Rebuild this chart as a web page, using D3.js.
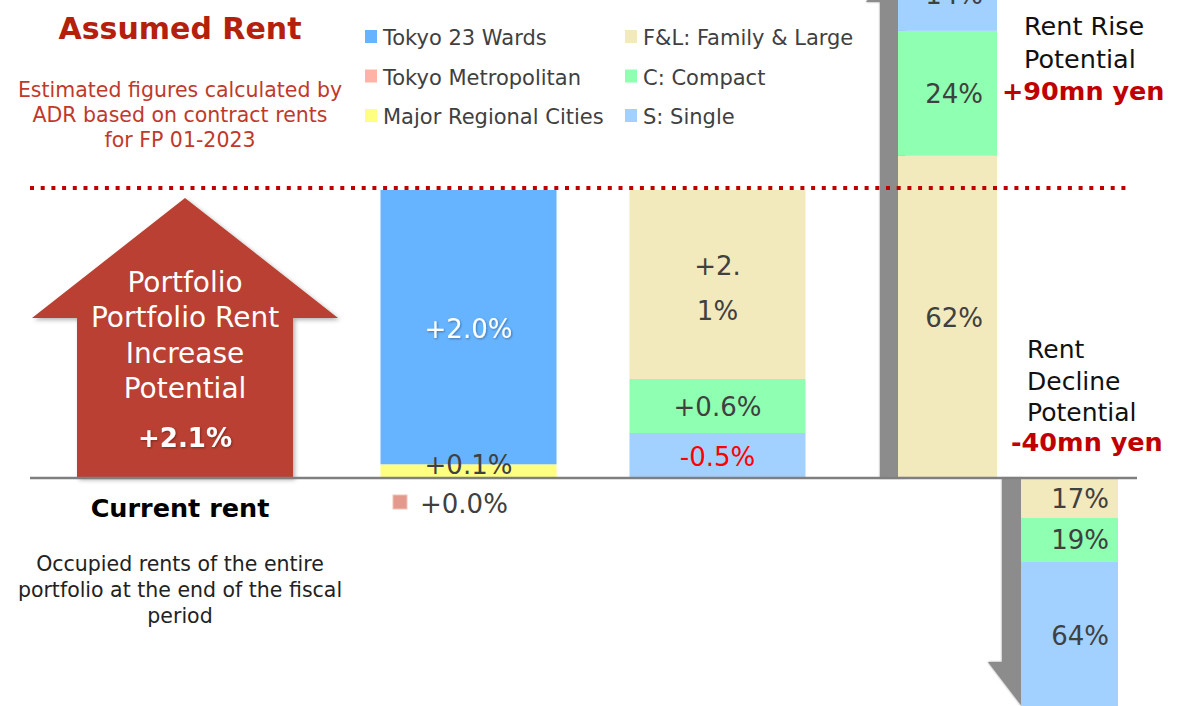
<!DOCTYPE html>
<html><head><meta charset="utf-8">
<script src="https://cdn.jsdelivr.net/npm/d3@7/dist/d3.min.js"></script>
<style>body{margin:0;background:#fff;overflow:hidden} svg{display:block;font-family:"DejaVu Sans",Verdana,sans-serif;}</style>
</head><body><svg id="c" width="1192" height="706"></svg>
<script>
// ---------- data ----------
const areaCategories = ["Tokyo 23 Wards", "Tokyo Metropolitan", "Major Regional Cities"];
const areaValues = [2.0, 0.0, 0.1];
const typeCategories = ["F&L: Family & Large", "C: Compact", "S: Single"];
const typeValues = [2.1, 0.6, -0.5];
const riseShares = [62, 24, 14];      // F&L, C, S (% of rise)
const declineShares = [17, 19, 64];   // F&L, C, S (% of decline)
const riseAmount = 90;                // mn yen
const declineAmount = -40;            // mn yen
const portfolioIncrease = 2.1;        // %
const columns = ["area", "type"];

// ---------- styles ----------
const areaColors = ["#66B3FF", "#FFB3A6", "#FFFF80"];
const typeColors = ["#F2E9BD", "#8FFFB1", "#A3D1FF"];
const textGrey = "#404040";

const svg = d3.select("#c");
const defs = svg.append("defs");
const f1 = defs.append("filter").attr("id", "sh").attr("x", "-20%").attr("y", "-20%").attr("width", "140%").attr("height", "140%");
f1.append("feDropShadow").attr("dx", 2).attr("dy", 2).attr("stdDeviation", 2).attr("flood-color", "#000").attr("flood-opacity", 0.3);
const f2 = defs.append("filter").attr("id", "tsh").attr("x", "-20%").attr("y", "-20%").attr("width", "140%").attr("height", "140%");
f2.append("feDropShadow").attr("dx", 1).attr("dy", 1).attr("stdDeviation", 1).attr("flood-color", "#000").attr("flood-opacity", 0.35);
const f3 = defs.append("filter").attr("id", "gsh").attr("x", "-50%").attr("y", "-10%").attr("width", "200%").attr("height", "120%");
f3.append("feGaussianBlur").attr("stdDeviation", 1.2);

const baseY = 478, topY = 190;
const fmtPct = v => (v >= 0 ? "+" : "-") + Math.abs(v).toFixed(1) + "%";

// ---------- header ----------
svg.append("text").attr("x", 180).attr("y", 39).attr("text-anchor", "middle")
  .attr("font-size", 30).attr("font-weight", "bold").attr("fill", "#B5200D").text("Assumed Rent");
["Estimated figures calculated by", "ADR based on contract rents", "for FP 01-2023"].forEach((t, i) =>
  svg.append("text").attr("x", 180).attr("y", 97 + i * 25).attr("text-anchor", "middle")
    .attr("font-size", 20.5).attr("fill", "#C0392B").text(t));

// ---------- legend ----------
const legendCols = [{names: areaCategories, colors: areaColors, x: 365}, {names: typeCategories, colors: typeColors, x: 625}];
legendCols.forEach(col => {
  col.names.forEach((n, i) => {
    const y = 45 + i * 39.5;
    svg.append("rect").attr("x", col.x).attr("y", y - 15).attr("width", 12).attr("height", 13).attr("fill", col.colors[i]);
    svg.append("text").attr("x", col.x + 18).attr("y", y).attr("font-size", 21).attr("fill", textGrey).text(n);
  });
});

// ---------- big red arrow ----------
const arrowPts = [[185, 198], [338, 318], [293, 318], [293, baseY], [77, baseY], [77, 318], [32, 318]];
svg.append("polygon").attr("points", arrowPts.map(p => p.join(",")).join(" "))
  .attr("fill", "#B94130").attr("filter", "url(#sh)");
["Portfolio", "Portfolio Rent", "Increase", "Potential"].forEach((t, i) =>
  svg.append("text").attr("x", 185).attr("y", 292 + i * 35.3).attr("text-anchor", "middle")
    .attr("font-size", 28).attr("fill", "#fff").text(t));
svg.append("text").attr("x", 185).attr("y", 447).attr("text-anchor", "middle")
  .attr("font-size", 26).attr("font-weight", "bold").attr("fill", "#fff").attr("filter", "url(#tsh)")
  .text(fmtPct(portfolioIncrease));

// ---------- stacked columns (area / type) ----------
const xBand = d3.scaleBand().domain(columns).range([380.5, 805.5]).paddingInner(0.293);

function drawColumn(key, cats, vals, colors, order) {
  const total = d3.sum(vals, v => Math.abs(v));
  const y = d3.scaleLinear().domain([0, total]).range([baseY, topY]);
  let acc = 0;
  const segs = order.map(i => {
    const s = {i, v: vals[i], y0: acc, y1: acc + Math.abs(vals[i])};
    acc += Math.abs(vals[i]);
    return s;
  });
  const g = svg.append("g");
  g.selectAll("rect").data(segs.filter(s => s.v !== 0)).join("rect")
    .attr("x", xBand(key)).attr("width", xBand.bandwidth())
    .attr("y", s => y(s.y1)).attr("height", s => y(s.y0) - y(s.y1))
    .attr("fill", s => colors[s.i]);
  return {segs, y};
}

// area column: bottom-up Major Regional, Tokyo Metropolitan, Tokyo 23 Wards
const colA = drawColumn("area", areaCategories, areaValues, areaColors, [2, 1, 0]);
const cxA = xBand("area") + xBand.bandwidth() / 2;
colA.segs.filter(s => s.v !== 0).forEach(s => {
  const c = (colA.y(s.y0) + colA.y(s.y1)) / 2;
  const big = colA.y(s.y0) - colA.y(s.y1) > 40;
  svg.append("text").attr("x", cxA).attr("y", Math.min(c + 11, colA.y(s.y0) - 4)).attr("text-anchor", "middle")
    .attr("font-size", 26).attr("fill", big ? "#fff" : textGrey).attr("filter", big ? "url(#tsh)" : null)
    .text(fmtPct(s.v));
});
// zero-valued category annotation below baseline
colA.segs.filter(s => s.v === 0).forEach(s => {
  svg.append("rect").attr("x", 393).attr("y", 495).attr("width", 14).attr("height", 14)
    .attr("fill", "#E3998C").attr("stroke", "#F2C2B8").attr("stroke-width", 1);
  svg.append("text").attr("x", 420).attr("y", 513).attr("font-size", 26).attr("fill", textGrey).text(fmtPct(s.v));
});

// type column: bottom-up S, C, F&L
const colT = drawColumn("type", typeCategories, typeValues, typeColors, [2, 1, 0]);
const cxT = xBand("type") + xBand.bandwidth() / 2;
colT.segs.forEach(s => {
  const c = (colT.y(s.y0) + colT.y(s.y1)) / 2;
  const t = svg.append("text").attr("x", cxT).attr("text-anchor", "middle").attr("font-size", 26)
    .attr("fill", s.v < 0 ? "#FF0000" : textGrey);
  const lab = fmtPct(s.v);
  if (colT.y(s.y0) - colT.y(s.y1) > 120) {
    t.append("tspan").attr("x", cxT).attr("y", c - 10).text(lab.slice(0, 3));
    t.append("tspan").attr("x", cxT).attr("y", c + 35).text(lab.slice(3));
  } else {
    t.attr("y", c + 10).text(lab);
  }
});

// ---------- rise / decline bars (mn yen) ----------
const yMn = d3.scaleLinear().domain([declineAmount, riseAmount]).range([baseY + 232, baseY - 520]);

// gray arrow shafts
const risePts = [[880, baseY], [880, 2], [866, 2], [905, -45], [905, baseY]];
svg.append("polygon").attr("points", risePts.map(p => p.join(",")).join(" ")).attr("fill", "#8C8C8C").attr("filter", "url(#gsh)");
svg.append("polygon").attr("points", risePts.map(p => p.join(",")).join(" ")).attr("fill", "#8C8C8C");
const declPts = [[1002, baseY], [1002, 662], [988, 662], [1040, 730], [1022, 730], [1022, baseY]];
svg.append("polygon").attr("points", declPts.map(p => p.join(",")).join(" ")).attr("fill", "#8C8C8C").attr("filter", "url(#gsh)");
svg.append("polygon").attr("points", declPts.map(p => p.join(",")).join(" ")).attr("fill", "#8C8C8C");

function drawShareBar(shares, amount, x0, x1, labelInset) {
  let acc = 0;
  const segs = shares.map((p, i) => {
    const s = {i, p, a0: acc, a1: acc + amount * p / 100};
    acc = s.a1;
    return s;
  });
  svg.append("g").selectAll("rect").data(segs).join("rect")
    .attr("x", x0).attr("width", x1 - x0)
    .attr("y", s => Math.min(yMn(s.a0), yMn(s.a1)))
    .attr("height", s => Math.abs(yMn(s.a0) - yMn(s.a1)))
    .attr("fill", s => typeColors[s.i]);
  segs.forEach(s => {
    const c = (yMn(s.a0) + yMn(s.a1)) / 2;
    svg.append("text").attr("x", x1 - labelInset).attr("y", c + 9.5).attr("text-anchor", "end")
      .attr("font-size", 26).attr("fill", textGrey).text(s.p + "%");
  });
}
drawShareBar(riseShares, riseAmount, 898, 997, 14);
drawShareBar(declineShares, declineAmount, 1021, 1118, 9);

// right-side annotations
["Rent Rise", "Potential"].forEach((t, i) =>
  svg.append("text").attr("x", 1024).attr("y", 35 + i * 33).attr("font-size", 25.5).attr("fill", "#111").text(t));
svg.append("text").attr("x", 1002).attr("y", 100).attr("font-size", 25.5).attr("font-weight", "bold")
  .attr("fill", "#C00000").text("+" + riseAmount + "mn yen");
["Rent", "Decline", "Potential"].forEach((t, i) =>
  svg.append("text").attr("x", 1027).attr("y", 358 + i * 31.5).attr("font-size", 25).attr("fill", "#111").text(t));
svg.append("text").attr("x", 1011).attr("y", 451).attr("font-size", 25.5).attr("font-weight", "bold")
  .attr("fill", "#C00000").text(declineAmount + "mn yen");

// ---------- baseline & assumed-rent dotted line ----------
svg.append("line").attr("x1", 30).attr("x2", 1137).attr("y1", baseY).attr("y2", baseY)
  .attr("stroke", "#7F7F7F").attr("stroke-width", 2.5);
svg.append("line").attr("x1", 30).attr("x2", 1126).attr("y1", 188).attr("y2", 188)
  .attr("stroke", "#C00000").attr("stroke-width", 4).attr("stroke-dasharray", "4,6.7");

// ---------- current rent caption ----------
svg.append("text").attr("x", 180).attr("y", 517).attr("text-anchor", "middle")
  .attr("font-size", 25.5).attr("font-weight", "bold").attr("fill", "#000").text("Current rent");
["Occupied rents of the entire", "portfolio at the end of the fiscal", "period"].forEach((t, i) =>
  svg.append("text").attr("x", 180).attr("y", 571 + i * 26).attr("text-anchor", "middle")
    .attr("font-size", 20.5).attr("fill", "#222").text(t));
</script></body></html>
